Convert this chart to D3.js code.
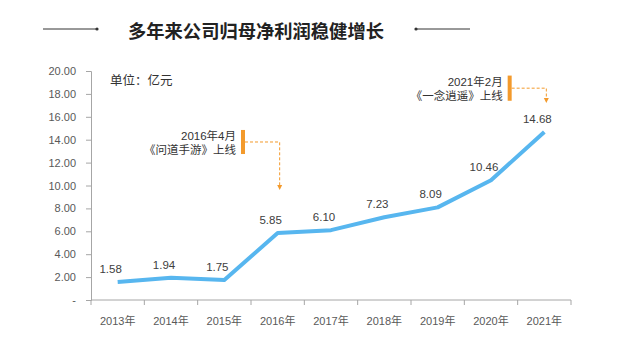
<!DOCTYPE html>
<html>
<head>
<meta charset="utf-8">
<script src="https://cdn.jsdelivr.net/npm/d3@7"></script>
<style>
  body { margin: 0; background: #fff; }
  svg { display: block; font-family: "Liberation Sans", Arial, "Noto Sans CJK SC", sans-serif; }
</style>
</head>
<body>
<svg id="chart"></svg>
<script>
const years = ["2013年", "2014年", "2015年", "2016年", "2017年", "2018年", "2019年", "2020年", "2021年"];
const profit = [1.58, 1.94, 1.75, 5.85, 6.10, 7.23, 8.09, 10.46, 14.68];
const yTicks = [0, 2, 4, 6, 8, 10, 12, 14, 16, 18, 20];
const notes = [
  { year: "2016年", lines: ["2016年4月", "《问道手游》上线"], top: 14.85, bottom: 12.75, mid: 13.8, tip: 9.6 },
  { year: "2021年", lines: ["2021年2月", "《一念逍遥》上线"], top: 19.6, bottom: 17.4, mid: 18.5, tip: 17.2 }
];

const W = 636, H = 350;
const margin = { top: 71, right: 65, bottom: 50, left: 91 };
const width = W - margin.left - margin.right;
const height = H - margin.top - margin.bottom;

const svg = d3.select("#chart").attr("width", W).attr("height", H);

// title with side rules
svg.append("text")
  .attr("x", 256).attr("y", 38)
  .attr("text-anchor", "middle")
  .attr("font-size", 18.3).attr("font-weight", "bold").attr("fill", "#222")
  .attr("font-family", "'Noto Sans CJK SC', sans-serif")
  .text("多年来公司归母净利润稳健增长");
svg.append("line").attr("x1", 43).attr("x2", 97).attr("y1", 29).attr("y2", 29).attr("stroke", "#333");
svg.append("circle").attr("cx", 97).attr("cy", 29).attr("r", 1.6).attr("fill", "#333");
svg.append("line").attr("x1", 416).attr("x2", 470).attr("y1", 29).attr("y2", 29).attr("stroke", "#333");
svg.append("circle").attr("cx", 416).attr("cy", 29).attr("r", 1.6).attr("fill", "#333");

const g = svg.append("g").attr("transform", `translate(${margin.left},${margin.top})`);

const x = d3.scaleBand().domain(years).range([0, width]);
const y = d3.scaleLinear().domain([0, 20]).range([height, 0]);

// y axis
const yAxis = g.append("g")
  .call(d3.axisLeft(y).tickValues(yTicks).tickSize(5).tickPadding(10)
    .tickFormat(d => d === 0 ? "-" : d.toFixed(2)));
yAxis.select(".domain").attr("stroke", "#a6a6a6");
yAxis.selectAll(".tick line").attr("stroke", "#a6a6a6");
yAxis.selectAll("text").attr("font-size", 11).attr("fill", "#595959")
  .attr("font-family", "'Liberation Sans', Arial, sans-serif");

// x axis with ticks at band edges
const xAxis = g.append("g").attr("transform", `translate(0,${height})`);
xAxis.append("line").attr("x1", 0).attr("x2", width).attr("stroke", "#a6a6a6");
xAxis.selectAll(".edge")
  .data(years.concat(["end"]))
  .enter().append("line")
  .attr("class", "edge")
  .attr("x1", (d, i) => i * x.step()).attr("x2", (d, i) => i * x.step())
  .attr("y1", 0).attr("y2", 5).attr("stroke", "#a6a6a6");
xAxis.selectAll(".lbl")
  .data(years)
  .enter().append("text")
  .attr("class", "lbl")
  .attr("x", d => x(d) + x.bandwidth() / 2)
  .attr("y", 25)
  .attr("text-anchor", "middle")
  .attr("font-size", 11).attr("fill", "#595959")
  .text(d => d);

// unit
g.append("text").attr("x", 19).attr("y", 13.5)
  .attr("font-size", 12.5).attr("fill", "#333")
  .text("单位：亿元");

// line
const pts = years.map((d, i) => [x(d) + x.bandwidth() / 2, y(profit[i])]);
g.append("path")
  .datum(pts)
  .attr("d", d3.line())
  .attr("fill", "none")
  .attr("stroke", "#57b6ef")
  .attr("stroke-width", 4)
  .attr("stroke-linejoin", "round");

g.selectAll(".val")
  .data(years)
  .enter().append("text")
  .attr("class", "val")
  .attr("x", (d, i) => x(d) + x.bandwidth() / 2 - 7)
  .attr("y", (d, i) => y(profit[i]) - 9)
  .attr("text-anchor", "middle")
  .attr("font-size", 11.5).attr("fill", "#404040")
  .text((d, i) => profit[i].toFixed(2));

// annotations
notes.forEach(n => {
  const cx = x(n.year) + x.bandwidth() / 2 + 2;
  const barX = x(n.year) - 10;
  g.append("rect")
    .attr("x", barX).attr("y", y(n.top))
    .attr("width", 4).attr("height", y(n.bottom) - y(n.top))
    .attr("fill", "#f39a2c");
  g.append("path")
    .attr("d", `M${barX + 4},${y(n.mid)}H${cx}V${y(n.tip) - 4}`)
    .attr("fill", "none").attr("stroke", "#f39a2c")
    .attr("stroke-width", 1).attr("stroke-dasharray", "3,2");
  g.append("path")
    .attr("d", `M${cx - 2.5},${y(n.tip) - 5}L${cx + 2.5},${y(n.tip) - 5}L${cx},${y(n.tip)}Z`)
    .attr("fill", "#f39a2c");
  n.lines.forEach((t, i) => {
    g.append("text")
      .attr("x", barX - 5)
      .attr("y", y(n.mid) - 2 + i * 14)
      .attr("text-anchor", "end")
      .attr("font-size", 11.5).attr("fill", "#333")
      .text(t);
  });
});
</script>
</body>
</html>
